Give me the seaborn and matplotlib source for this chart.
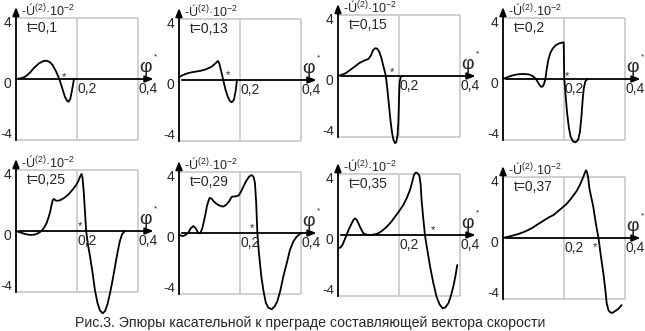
import numpy as np
import pandas as pd
import matplotlib
matplotlib.use('Agg')
import matplotlib.pyplot as plt
import seaborn as sns

sns.set_style('white')
plt.rcParams['font.family'] = ['Liberation Sans', 'DejaVu Sans']
plt.rcParams['mathtext.fontset'] = 'custom'
plt.rcParams['mathtext.rm'] = 'Liberation Sans'
plt.rcParams['mathtext.it'] = 'Liberation Sans:italic'

# Эпюры -U(2)*10^-2 по phi* для разных моментов времени t
t_labels = ['t=0,1', 't=0,13', 't=0,15', 't=0,2', 't=0,25', 't=0,29', 't=0,35', 't=0,37']

phi_1 = [0, 0.015, 0.03, 0.045, 0.06, 0.075, 0.09, 0.1, 0.11, 0.12, 0.13, 0.142, 0.15, 0.16, 0.167, 0.172, 0.178, 0.184, 0.19]
u_1 = [0, 0.04, 0.15, 0.4, 0.75, 1.02, 1.18, 1.2, 1.12, 0.92, 0.55, 0, -0.5, -1.15, -1.42, -1.5, -1.3, -0.7, 0]

phi_2 = [0, 0.01, 0.025, 0.04, 0.055, 0.07, 0.085, 0.1, 0.11, 0.12, 0.128, 0.132, 0.138, 0.145, 0.152, 0.16, 0.167, 0.173, 0.18, 0.186, 0.19]
u_2 = [0.18, 0.3, 0.42, 0.5, 0.55, 0.6, 0.68, 0.8, 0.92, 1.1, 1.25, 1.1, 0.6, 0, -0.6, -1.1, -1.38, -1.46, -1.3, -0.7, 0]

phi_3 = [0, 0.012, 0.025, 0.04, 0.055, 0.07, 0.085, 0.1, 0.108, 0.115, 0.122, 0.128, 0.135, 0.142, 0.15, 0.157,
         0.162, 0.167, 0.172, 0.177, 0.182, 0.187, 0.191, 0.195, 0.198, 0.2, 0.202, 0.206, 0.212]
u_3 = [0, 0.08, 0.18, 0.4, 0.62, 0.85, 1.0, 1.12, 1.35, 1.7, 1.82, 1.8, 1.6, 1.2, 0.55, 0,
       -0.9, -1.9, -2.9, -3.7, -4.2, -4.4, -4.35, -3.9, -3.0, -1.5, -0.4, -0.05, 0]

phi_4 = [0, 0.012, 0.025, 0.04, 0.055, 0.07, 0.085, 0.097, 0.108, 0.117, 0.124, 0.13, 0.135, 0.139, 0.143, 0.148,
         0.155, 0.163, 0.172, 0.182, 0.192, 0.199, 0.2, 0.201, 0.205, 0.21, 0.216, 0.222, 0.23, 0.238, 0.246,
         0.252, 0.257, 0.261, 0.265, 0.27, 0.277]
u_4 = [0, 0.1, 0.2, 0.28, 0.32, 0.33, 0.3, 0.2, 0.0, -0.3, -0.5, -0.5, -0.3, 0.0, 0.6, 1.2,
       1.7, 2.0, 2.2, 2.32, 2.38, 2.4, 1.0, 0.0, -1.0, -2.2, -3.2, -3.8, -4.1, -4.15, -4.0,
       -3.5, -2.5, -1.4, -0.6, -0.15, 0]

phi_5 = [0, 0.015, 0.03, 0.046, 0.06, 0.072, 0.084, 0.093, 0.1, 0.106, 0.112, 0.117, 0.121, 0.125, 0.13, 0.138,
         0.148, 0.16, 0.172, 0.185, 0.197, 0.205, 0.21, 0.215, 0.218, 0.222, 0.226, 0.23, 0.236, 0.243, 0.25,
         0.259, 0.267, 0.275, 0.284, 0.292, 0.3, 0.308, 0.316, 0.324, 0.332, 0.34, 0.348, 0.357]
u_5 = [0, -0.1, -0.2, -0.26, -0.24, -0.15, 0, 0.25, 0.5, 0.85, 1.25, 1.75, 2.05, 2.1, 2.0, 1.98,
       2.05, 2.2, 2.4, 2.7, 3.0, 3.3, 3.56, 3.74, 3.5, 2.6, 1.3, 0, -0.9, -1.7, -2.6,
       -3.9, -4.7, -5.2, -5.4, -5.25, -4.8, -4.1, -3.3, -2.4, -1.5, -0.7, -0.2, 0]

phi_6 = [0, 0.007, 0.014, 0.022, 0.03, 0.038, 0.047, 0.055, 0.063, 0.07, 0.077, 0.085, 0.092, 0.1, 0.107, 0.115,
         0.124, 0.135, 0.145, 0.155, 0.165, 0.173, 0.185, 0.195, 0.203, 0.211, 0.22, 0.23, 0.238, 0.244, 0.249,
         0.253, 0.257, 0.262, 0.27, 0.277, 0.285, 0.293, 0.304, 0.314, 0.322, 0.332, 0.342, 0.353, 0.364, 0.375,
         0.386, 0.395, 0.402]
u_6 = [-0.09, -0.18, -0.2, -0.12, 0, 0.3, 0.46, 0.3, 0, -0.02, 0.35, 1.07, 1.8, 2.3, 2.25, 2.05,
       1.9, 1.78, 1.73, 1.85, 2.1, 2.38, 2.4, 2.45, 2.7, 3.04, 3.4, 3.7, 3.8, 3.7, 3.3,
       2.0, 0, -1.3, -2.86, -3.8, -4.6, -4.9, -5.0, -4.8, -4.5, -3.8, -2.86, -2.0, -1.1, -0.55,
       -0.24, -0.08, 0]

phi_7 = [0, 0.008, 0.016, 0.022, 0.028, 0.036, 0.045, 0.051, 0.056, 0.061, 0.067, 0.074, 0.083, 0.094, 0.105, 0.118,
         0.132, 0.146, 0.16, 0.174, 0.187, 0.2, 0.214, 0.225, 0.236, 0.243, 0.249, 0.254, 0.258, 0.263, 0.267,
         0.271, 0.274, 0.279, 0.285, 0.293, 0.302, 0.312, 0.323, 0.333, 0.343, 0.352, 0.362, 0.37, 0.378, 0.385, 0.391]
u_7 = [-0.87, -0.82, -0.6, -0.3, 0, 0.4, 0.77, 1.0, 1.09, 1.0, 0.77, 0.45, 0.11, 0.02, 0, 0.03,
       0.11, 0.3, 0.54, 0.85, 1.2, 1.55, 1.97, 2.4, 2.95, 3.45, 3.93, 4.08, 4.09, 4.0, 3.86,
       3.3, 2.3, 1.2, 0, -1.0, -2.08, -3.1, -4.04, -4.55, -4.8, -4.75, -4.47, -4.0, -3.39, -2.7, -1.97]

phi_8 = [0, 0.02, 0.04, 0.056, 0.075, 0.095, 0.11, 0.13, 0.15, 0.165, 0.18, 0.195, 0.209, 0.222, 0.233, 0.242,
         0.25, 0.257, 0.263, 0.268, 0.272, 0.275, 0.279, 0.283, 0.289, 0.296, 0.304, 0.313, 0.321, 0.329, 0.335,
         0.34, 0.346, 0.353, 0.36, 0.367, 0.378, 0.389]
u_8 = [0, 0.1, 0.2, 0.3, 0.45, 0.65, 0.85, 1.1, 1.35, 1.5, 1.75, 2.0, 2.25, 2.55, 2.85, 3.1,
       3.4, 3.7, 4.0, 4.25, 4.44, 4.35, 4.0, 3.3, 2.7, 2.05, 1.0, 0, -1.2, -2.3, -3.3,
       -4.28, -4.75, -4.9, -4.9, -4.8, -4.65, -4.4]

# положение значка * (phi*) на каждой эпюре
star_phi = [0.157, 0.16, 0.177, 0.21, 0.21, 0.24, 0.31, 0.30]
star_u = [0.15, 0.3, 0.25, 0.2, 0.3, 0.3, 0.3, -0.6]

phis = [phi_1, phi_2, phi_3, phi_4, phi_5, phi_6, phi_7, phi_8]
us = [u_1, u_2, u_3, u_4, u_5, u_6, u_7, u_8]

# начало координат каждой панели в пикселях
origins = [(16, 79), (179, 80), (338, 76), (503, 79),
           (16, 231), (179, 233), (338, 235), (503, 238)]

W, H = 645, 331
sx, sy = 305.0, 15.25  # пикселей на единицу
x0, x1 = -0.06, 0.48
y0, y1 = -5.8, 5.2

fig = plt.figure(figsize=(W / 100, H / 100), dpi=100)

for i in range(8):
    ox, oy = origins[i]
    left = (ox + x0 * sx) / W
    bottom = (H - (oy - y0 * sy)) / H
    ax = fig.add_axes([left, bottom, (x1 - x0) * sx / W, (y1 - y0) * sy / H])
    ax.set_xlim(x0, x1)
    ax.set_ylim(y0, y1)
    ax.axis('off')

    # серая рамка
    ax.hlines([4, -4], 0, 0.4, color='#c8c8c8', lw=1.2)
    ax.vlines([0.2, 0.4], -4, 4, color='#c8c8c8', lw=1.2)

    # оси со стрелками
    ax.annotate('', xy=(0.46, 0), xytext=(0, 0),
                arrowprops=dict(arrowstyle='-|>,head_length=0.5,head_width=0.2', color='black', lw=1.3))
    ax.annotate('', xy=(0, 4.9), xytext=(0, -4.2),
                arrowprops=dict(arrowstyle='-|>,head_length=0.5,head_width=0.2', color='black', lw=1.3))

    df = pd.DataFrame({'phi': phis[i], 'u': us[i]})
    sns.lineplot(data=df, x='phi', y='u', ax=ax, color='black', lw=1.3, sort=False, estimator=None)

    ax.text(-0.015, 3.65, '4', ha='right', va='center', fontsize=10)
    ax.text(-0.015, -0.3, '0', ha='right', va='center', fontsize=10)
    ax.text(-0.012, -3.65, '-4', ha='right', va='center', fontsize=9.5)
    ax.text(0.203, -0.65, '0,2', ha='left', va='center', fontsize=10)
    ax.text(0.403, -0.65, '0,4', ha='left', va='center', fontsize=10)
    ax.text(0.425, 0.75, 'φ', ha='center', va='center', fontsize=14)
    ax.text(0.458, 1.45, '*', ha='center', va='center', fontsize=6)
    ax.text(0.016, 4.5, '-Ú$^{(2)}$·10$^{-2}$', ha='left', va='center', fontsize=9)
    ax.text(0.036, 3.35, t_labels[i], ha='left', va='center', fontsize=10)
    ax.text(star_phi[i], star_u[i], '*', ha='center', va='center', fontsize=8)

fig.text(310 / W, 1 - 323 / H, 'Рис.3. Эпюры касательной к преграде составляющей вектора скорости',
         ha='center', va='center', fontsize=10.2)

fig.savefig('out.png', dpi=100)
